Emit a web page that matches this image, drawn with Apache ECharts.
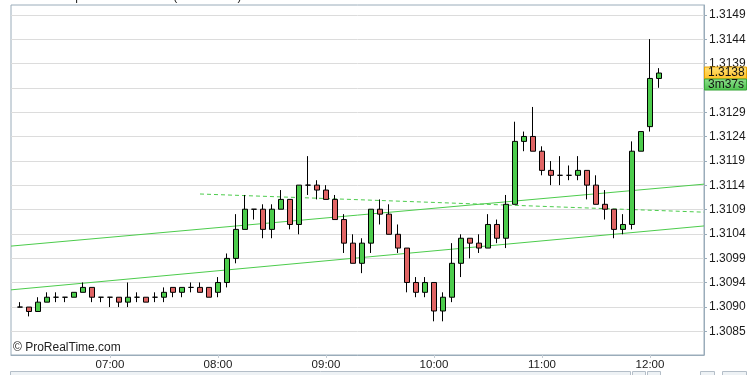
<!DOCTYPE html>
<html><head><meta charset="utf-8">
<script src="https://cdn.jsdelivr.net/npm/echarts@6/dist/echarts.min.js"></script>
<style>html,body{margin:0;padding:0;background:#fff}#c{width:751px;height:375px}</style>
</head><body><div id="c"></div>
<script>
const categories = [
 '06:05','06:10','06:15','06:20','06:25','06:30','06:35','06:40','06:45','06:50','06:55',
 '07:00','07:05','07:10','07:15','07:20','07:25','07:30','07:35','07:40','07:45','07:50','07:55',
 '08:00','08:05','08:10','08:15','08:20','08:25','08:30','08:35','08:40','08:45','08:50','08:55',
 '09:00','09:05','09:10','09:15','09:20','09:25','09:30','09:35','09:40','09:45','09:50','09:55',
 '10:00','10:05','10:10','10:15','10:20','10:25','10:30','10:35','10:40','10:45','10:50','10:55',
 '11:00','11:05','11:10','11:15','11:20','11:25','11:30','11:35','11:40','11:45','11:50','11:55',
 '12:00','12:05','12:10','12:15','12:20','12:25','12:30'
];
// [open, close, low, high] for the candles 06:10 .. 12:05
const ohlc = [
 [1.30900,1.30900,1.30900,1.30910],[1.30900,1.30891,1.30881,1.30900],[1.30891,1.30910,1.30891,1.30920],
 [1.30910,1.30920,1.30910,1.30930],[1.30920,1.30920,1.30910,1.30930],[1.30920,1.30920,1.30910,1.30920],
 [1.30920,1.30930,1.30920,1.30930],[1.30930,1.30940,1.30930,1.30950],[1.30940,1.30920,1.30910,1.30940],
 [1.30920,1.30920,1.30910,1.30920],[1.30920,1.30920,1.30900,1.30920],[1.30920,1.30910,1.30900,1.30920],
 [1.30910,1.30920,1.30900,1.30950],[1.30920,1.30920,1.30910,1.30930],[1.30920,1.30910,1.30910,1.30920],
 [1.30920,1.30920,1.30910,1.30930],[1.30920,1.30930,1.30910,1.30940],[1.30940,1.30930,1.30920,1.30940],
 [1.30930,1.30940,1.30920,1.30940],[1.30940,1.30940,1.30930,1.30950],[1.30940,1.30930,1.30930,1.30950],
 [1.30940,1.30920,1.30920,1.30940],[1.30930,1.30950,1.30920,1.30961],[1.30950,1.30999,1.30940,1.31009],
 [1.30999,1.31058,1.30989,1.31089],[1.31058,1.31099,1.31058,1.31128],[1.31099,1.31099,1.31078,1.31099],
 [1.31099,1.31058,1.31040,1.31109],[1.31058,1.31099,1.31040,1.31109],[1.31099,1.31119,1.31099,1.31138],
 [1.31119,1.31068,1.31058,1.31119],[1.31068,1.31148,1.31048,1.31148],[1.31148,1.31148,1.31128,1.31207],
 [1.31148,1.31138,1.31119,1.31158],[1.31138,1.31119,1.31119,1.31148],[1.31119,1.31078,1.31078,1.31128],
 [1.31078,1.31030,1.31010,1.31089],[1.31030,1.30989,1.30989,1.31048],[1.30989,1.31030,1.30969,1.31040],
 [1.31030,1.31099,1.31010,1.31099],[1.31099,1.31089,1.31068,1.31119],[1.31089,1.31048,1.31048,1.31109],
 [1.31048,1.31020,1.31010,1.31068],[1.31020,1.30950,1.30930,1.31020],[1.30950,1.30930,1.30920,1.30961],
 [1.30930,1.30950,1.30920,1.30961],[1.30950,1.30892,1.30871,1.30950],[1.30892,1.30920,1.30871,1.30930],
 [1.30920,1.30989,1.30910,1.31030],[1.30989,1.31040,1.30961,1.31048],[1.31040,1.31030,1.30999,1.31040],
 [1.31030,1.31020,1.31010,1.31048],[1.31020,1.31068,1.31020,1.31089],[1.31068,1.31040,1.31030,1.31078],
 [1.31040,1.31109,1.31020,1.31128],[1.31109,1.31237,1.31109,1.31277],[1.31237,1.31247,1.31217,1.31257],
 [1.31247,1.31217,1.31217,1.31307],[1.31217,1.31178,1.31168,1.31227],[1.31178,1.31168,1.31148,1.31197],
 [1.31168,1.31168,1.31148,1.31207],[1.31168,1.31168,1.31158,1.31188],[1.31168,1.31178,1.31158,1.31207],
 [1.31178,1.31148,1.31119,1.31178],[1.31148,1.31109,1.31109,1.31168],[1.31109,1.31099,1.31078,1.31138],
 [1.31099,1.31058,1.31040,1.31099],[1.31058,1.31068,1.31048,1.31089],[1.31068,1.31217,1.31058,1.31237],
 [1.31217,1.31257,1.31217,1.31257],[1.31267,1.31365,1.31257,1.31445],[1.31365,1.31376,1.31346,1.31386]
];
const yTickValues = [1.308507,1.309002,1.309497,1.309992,1.310487,1.310982,1.311477,1.311972,1.312467,1.312962,1.313457,1.313952,1.314447,1.314942];
const yTickLabels = ['1.3085','1.3090','1.3094','1.3099','1.3104','1.3109','1.3114','1.3119','1.3124','1.3129','','1.3139','1.3144','1.3149'];
const hourLabels = ['07:00','08:00','09:00','10:00','11:00','12:00'];
const upperLine = [['06:05',1.31024],['12:30',1.31150]];
const lowerLine = [['06:05',1.30935],['12:30',1.31065]];
const dashLine = [['07:50',1.31130],['12:30',1.31093]];
const lastPrice = 1.31376;
const priceLabel = '1.3138';
const timerLabel = '3m37s';

const frameColor = '#9aacba';
const font = 'Liberation Sans, Arial, sans-serif';
const candleData = [['-','-','-','-']].concat(ohlc);
while (candleData.length < categories.length) candleData.push(['-','-','-','-']);

const chart = echarts.init(document.getElementById('c'), null, {renderer:'canvas'});
const isHour = (i, v) => hourLabels.indexOf(v) >= 0;
chart.setOption({
  animation: false,
  backgroundColor: '#fff',
  grid: {left: 11, top: 5, width: 693, height: 350, show: true, borderColor: frameColor, borderWidth: 1, backgroundColor: '#fff'},
  xAxis: {
    type: 'category', data: categories, boundaryGap: false,
    axisLine: {show: true, lineStyle: {color: frameColor}},
    axisTick: {show: true, length: 3, interval: isHour, lineStyle: {color: '#c4ccd4'}},
    axisLabel: {interval: isHour, margin: 4, fontSize: 11.5, color: '#1a1a1a', fontFamily: font},
    splitLine: {show: false}
  },
  yAxis: {
    type: 'value', position: 'right', min: 1.308025, max: 1.315144,
    axisLine: {show: true, lineStyle: {color: frameColor}},
    axisTick: {show: true, length: 3, customValues: yTickValues, lineStyle: {color: frameColor}},
    axisLabel: {
      customValues: yTickValues, margin: 5, fontSize: 12, color: '#1a1a1a', fontFamily: font,
      showMinLabel: true, showMaxLabel: true,
      formatter: function (v) {
        let best = 0;
        for (let k = 1; k < yTickValues.length; k++) if (Math.abs(yTickValues[k]-v) < Math.abs(yTickValues[best]-v)) best = k;
        return yTickLabels[best];
      }
    },
    splitLine: {show: true, lineStyle: {color: '#dcdcdc', width: 1}}
  },
  series: [
    {type: 'line', data: upperLine, symbol: 'none', silent: true, z: 1, lineStyle: {color: '#4ccc4c', width: 1}},
    {type: 'line', data: lowerLine, symbol: 'none', silent: true, z: 1, lineStyle: {color: '#4ccc4c', width: 1}},
    {type: 'line', data: dashLine, symbol: 'none', silent: true, z: 1, lineStyle: {color: '#4ccc4c', width: 1, type: [4, 3]}},
    {type: 'candlestick', data: candleData, barWidth: 6, z: 3, silent: true,
     itemStyle: {color: '#4ccc4c', color0: '#e06464', borderColor: '#000', borderColor0: '#000', borderColorDoji: '#000', borderWidth: 1}}
  ]
});

const py = chart.convertToPixel({yAxisIndex: 0}, lastPrice);
chart.setOption({
  graphic: [
    {type: 'text', left: 10, top: -9, z: 10, style: {text: 'EUR/USD Spot  -', fill: '#222', font: '12px ' + font}},
    {type: 'text', left: 113, top: -9, z: 10, style: {text: '+0.0046', fill: '#2a9a2a', font: '12px ' + font}},
    {type: 'text', left: 140, top: -9, z: 10, style: {text: '12:05 (13:05 GMT)', fill: '#222', font: '12px ' + font}},
    {type: 'text', left: 13, top: 342, z: 10, style: {text: '\u00a9 ProRealTime.com', fill: '#222', font: '12px ' + font}},
    {type: 'rect', z: 10, shape: {x: 704.5, y: py - 6, width: 42, height: 12},
     style: {fill: new echarts.graphic.LinearGradient(0,0,0,1,[{offset:0,color:'#ffe27a'},{offset:1,color:'#ffbf1f'}]), stroke: '#e8a000', lineWidth: 1}},
    {type: 'text', z: 11, x: 708, y: py, style: {text: priceLabel, fill: '#111', font: '12px ' + font, verticalAlign: 'middle'}},
    {type: 'rect', z: 10, shape: {x: 704.5, y: py + 6, width: 42, height: 11},
     style: {fill: new echarts.graphic.LinearGradient(0,0,0,1,[{offset:0,color:'#8fe08f'},{offset:1,color:'#4cc24c'}]), stroke: '#3aa83a', lineWidth: 1}},
    {type: 'text', z: 11, x: 708, y: py + 11.5, style: {text: timerLabel, fill: '#111', font: '12px ' + font, verticalAlign: 'middle'}},
    {type: 'rect', z: 10, shape: {x: 10.5, y: 371.5, width: 620, height: 10}, style: {fill: '#eef2f5', stroke: '#b4bec8', lineWidth: 1}},
    {type: 'rect', z: 10, shape: {x: 632.5, y: 371.5, width: 13, height: 10}, style: {fill: '#eef2f5', stroke: '#b4bec8', lineWidth: 1}},
    {type: 'rect', z: 10, shape: {x: 647.5, y: 371.5, width: 13, height: 10}, style: {fill: '#eef2f5', stroke: '#b4bec8', lineWidth: 1}},
    {type: 'rect', z: 10, shape: {x: 700.5, y: 371.5, width: 14, height: 10}, style: {fill: '#eef2f5', stroke: '#b4bec8', lineWidth: 1}},
    {type: 'rect', z: 10, shape: {x: 722.5, y: 371.5, width: 24, height: 10}, style: {fill: '#eef2f5', stroke: '#b4bec8', lineWidth: 1}}
  ]
});
</script></body></html>
